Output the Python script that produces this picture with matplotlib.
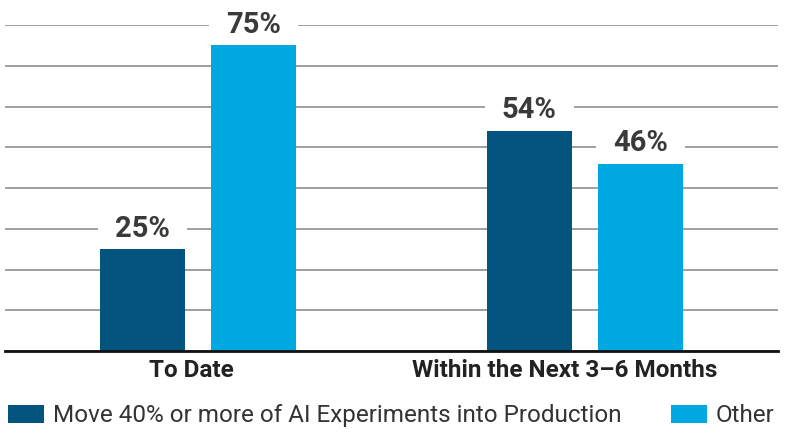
import matplotlib.pyplot as plt
import matplotlib.transforms as mtransforms
import numpy as np

plt.rcParams['font.family'] = ['Roboto', 'DejaVu Sans']

categories = ["To Date", "Within the Next 3\u20136 Months"]
series_names = ["Move 40% or more of AI Experiments into Production", "Other"]
move_vals = [25, 54]
other_vals = [75, 46]

colors = ["#03557F", "#00A8E1"]

fig = plt.figure(figsize=(8, 4.34), dpi=100)
ax = fig.add_axes([0.00625, 0.1912, 0.9663, 0.7512])

x = np.arange(len(categories))
w = 0.22
off = 0.1436

b1 = ax.bar(x - off, move_vals, w, color=colors[0], zorder=3, label=series_names[0])
b2 = ax.bar(x + off, other_vals, w, color=colors[1], zorder=3, label=series_names[1])

# value labels, white box cuts the gridlines behind them
for bars, vals in [(b1, move_vals), (b2, other_vals)]:
    for rect, v in zip(bars, vals):
        ax.annotate(f"{v}%", (rect.get_x() + rect.get_width() / 2, v),
                    xytext=(0, 9), textcoords='offset points',
                    ha='center', va='baseline', fontsize=21, fontweight='bold',
                    color='#3a3a3a', zorder=2,
                    bbox=dict(boxstyle='square,pad=0.58', fc='white', ec='none'))

ax.set_xlim(-0.5, 1.5)
ax.set_ylim(0, 80)
ax.set_yticks(np.arange(0, 81, 10))
ax.yaxis.grid(True, color='#858585', linewidth=1.1, zorder=0)
ax.set_axisbelow(True)
ax.tick_params(axis='y', left=False, labelleft=False)
ax.tick_params(axis='x', length=0, pad=6)
ax.set_xticks(x)
ax.set_xticklabels(categories, fontsize=17.5, fontweight='bold', color='#222222')
# the original labels sit a little left of the group centres
for lbl, dx in zip(ax.get_xticklabels(), [-7, -20]):
    lbl.set_transform(lbl.get_transform() +
                      mtransforms.ScaledTranslation(dx / 100, 0, fig.dpi_scale_trans))
for s in ['top', 'right', 'left']:
    ax.spines[s].set_visible(False)
ax.spines['bottom'].set_linewidth(2)
ax.spines['bottom'].set_color('#111111')
ax.spines['bottom'].set_zorder(4)

leg = fig.legend(handles=[b1, b2], loc='center left', bbox_to_anchor=(0.01, 0.0415),
                 ncol=2, frameon=False, fontsize=17.5, handlelength=1.48,
                 handleheight=0.74, handletextpad=0.36, columnspacing=2.05,
                 borderaxespad=0, borderpad=0)
for t in leg.get_texts():
    t.set_color('#333333')

fig.savefig('out.png', dpi=100)
